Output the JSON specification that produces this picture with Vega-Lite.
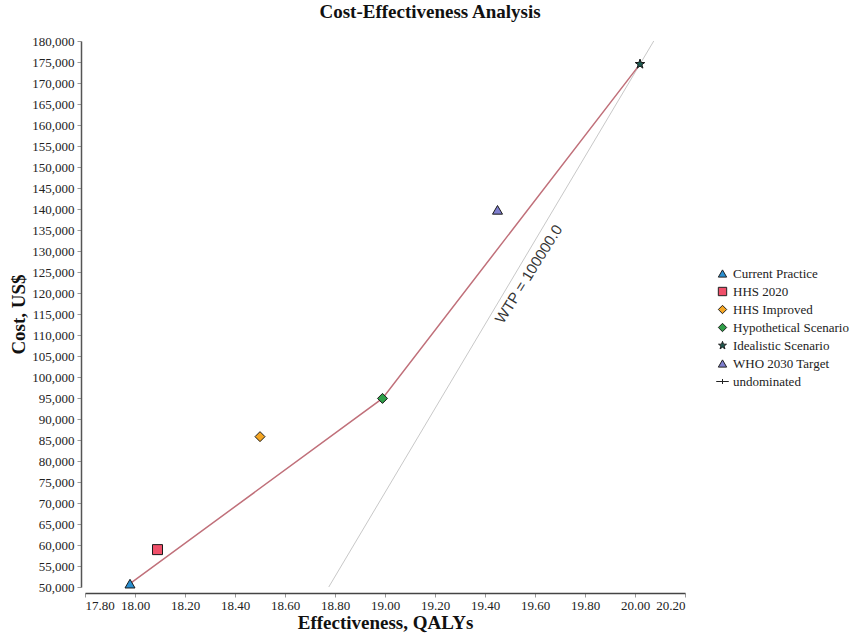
{
  "$schema": "https://vega.github.io/schema/vega-lite/v6.json",
  "width": 600,
  "height": 546,
  "autosize": {"type": "none"},
  "padding": {"left": 85, "top": 41, "right": 169, "bottom": 53},
  "background": "white",
  "config": {"view": {"stroke": null}},
  "title": {
    "text": "Cost-Effectiveness Analysis",
    "font": "Liberation Serif",
    "fontSize": 19,
    "fontWeight": "bold",
    "color": "#111",
    "anchor": "middle",
    "dx": 45,
    "offset": 13
  },
  "datasets": {
    "strategies": [
      {"Strategy": "Current Practice", "QALY": 17.98, "Cost": 50800, "frontier": 1},
      {"Strategy": "HHS 2020", "QALY": 18.09, "Cost": 58900, "frontier": 0},
      {"Strategy": "HHS Improved", "QALY": 18.5, "Cost": 85800, "frontier": 0},
      {"Strategy": "Hypothetical Scenario", "QALY": 18.99, "Cost": 94900, "frontier": 2},
      {"Strategy": "Idealistic Scenario", "QALY": 20.02, "Cost": 174500, "frontier": 3},
      {"Strategy": "WHO 2030 Target", "QALY": 19.45, "Cost": 139800, "frontier": 0}
    ],
    "wtp": [
      {"QALY": 18.775, "Cost": 50000},
      {"QALY": 20.075, "Cost": 180000}
    ],
    "wtpLabel": [
      {"QALY": 19.575, "Cost": 124500, "label": "WTP = 100000.0"}
    ]
  },
  "encoding": {
    "x": {
      "field": "QALY", "type": "quantitative",
      "scale": {"domain": [17.8, 20.2], "nice": false, "zero": false},
      "axis": {
        "title": "Effectiveness, QALYs",
        "values": [17.8, 18.0, 18.2, 18.4, 18.6, 18.8, 19.0, 19.2, 19.4, 19.6, 19.8, 20.0, 20.2],
        "format": ".2f",
        "grid": false,
        "offset": 6,
        "domainColor": "#444", "domainWidth": 1.5,
        "tickColor": "#999", "tickSize": 4,
        "labelFont": "Liberation Serif", "labelFontSize": 13, "labelColor": "#222",
        "labelPadding": 2,
        "titleFont": "Liberation Serif", "titleFontSize": 19, "titleFontWeight": "bold", "titleColor": "#111",
        "titlePadding": 1
      }
    },
    "y": {
      "field": "Cost", "type": "quantitative",
      "scale": {"domain": [50000, 180000], "nice": false, "zero": false},
      "axis": {
        "title": "Cost, US$",
        "values": [50000, 55000, 60000, 65000, 70000, 75000, 80000, 85000, 90000, 95000, 100000, 105000, 110000, 115000, 120000, 125000, 130000, 135000, 140000, 145000, 150000, 155000, 160000, 165000, 170000, 175000, 180000],
        "format": ",d",
        "grid": false,
        "offset": 4,
        "domainColor": "#555", "domainWidth": 1.5,
        "tickColor": "#999", "tickSize": 4,
        "labelFont": "Liberation Serif", "labelFontSize": 13, "labelColor": "#222",
        "labelPadding": 3,
        "titleFont": "Liberation Serif", "titleFontSize": 19, "titleFontWeight": "bold", "titleColor": "#111",
        "titlePadding": 3
      }
    }
  },
  "layer": [
    {
      "data": {"name": "wtp"},
      "mark": {"type": "line", "color": "#c8c8c8", "strokeWidth": 1}
    },
    {
      "data": {"name": "wtpLabel"},
      "mark": {"type": "text", "angle": -58, "font": "Liberation Sans", "fontSize": 15, "color": "#333"},
      "encoding": {"text": {"field": "label"}}
    },
    {
      "data": {"name": "strategies"},
      "transform": [{"filter": "datum.frontier > 0"}],
      "mark": {"type": "line", "color": "#c0707a", "strokeWidth": 1.5},
      "encoding": {"order": {"field": "frontier", "type": "quantitative"}}
    },
    {
      "data": {"name": "strategies"},
      "mark": {"type": "point", "filled": true, "stroke": "#1a1a1a", "strokeWidth": 1, "opacity": 1, "size": 100},
      "encoding": {
        "color": {
          "field": "Strategy", "type": "nominal",
          "scale": {
            "domain": ["Current Practice", "HHS 2020", "HHS Improved", "Hypothetical Scenario", "Idealistic Scenario", "WHO 2030 Target", "undominated"],
            "range": ["#2a8fd0", "#f0506a", "#f5a623", "#2e9e48", "#1d5a50", "#7f7fcf", "#c0707a"]
          },
          "legend": {
            "title": null,
            "orient": "none",
            "legendX": 631,
            "legendY": 226,
            "labelFont": "Liberation Serif",
            "labelFontSize": 13,
            "labelColor": "#222",
            "rowPadding": 4,
            "symbolSize": 70,
            "symbolStrokeColor": "#222",
            "symbolStrokeWidth": 1,
            "encode": {
              "symbols": {
                "update": {
                  "stroke": {"signal": "datum.label === 'undominated' ? '#c0707a' : '#222'"},
                  "strokeWidth": {"signal": "datum.label === 'undominated' ? 1.5 : 1"}
                }
              }
            }
          }
        },
        "shape": {
          "field": "Strategy", "type": "nominal",
          "scale": {
            "domain": ["Current Practice", "HHS 2020", "HHS Improved", "Hypothetical Scenario", "Idealistic Scenario", "WHO 2030 Target", "undominated"],
            "range": ["triangle-up", "square", "diamond", "diamond", "M0,-1L0.235,-0.324L0.951,-0.309L0.38,0.124L0.588,0.809L0,0.4L-0.588,0.809L-0.38,0.124L-0.951,-0.309L-0.235,-0.324Z", "triangle-up", "M-1.5,0H1.5M0,-0.6V0.6"]
          },
          "legend": null
        }
      }
    }
  ]
}
